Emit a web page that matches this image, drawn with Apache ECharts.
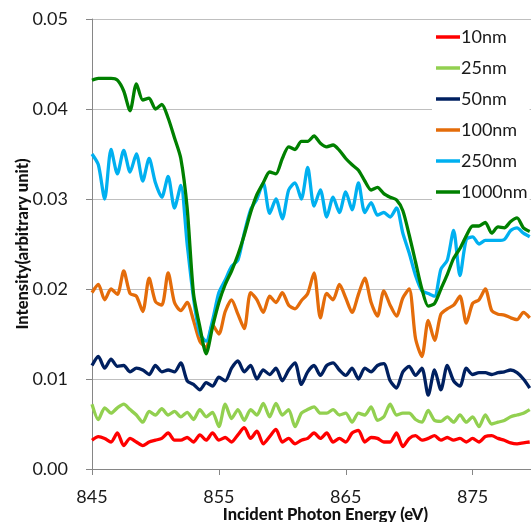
<!DOCTYPE html>
<html>
<head>
<meta charset="utf-8">
<script src="https://cdn.jsdelivr.net/npm/echarts@6/dist/echarts.min.js"></script>
<style>
html,body{margin:0;padding:0;background:#fff;}
#chart{width:531px;height:522px;}
</style>
</head>
<body>
<div id="chart"></div>
<script>
// Sample grid: incident photon energy (eV), 0.5 eV steps from 845 to 879.5
const energy = Array.from({length: 70}, (_, i) => 845 + i * 0.5);

const seriesNames = ['10nm', '25nm', '50nm', '100nm', '250nm', '1000nm'];
const seriesColors = ['#FF0000', '#92D050', '#002060', '#E46C0A', '#00B0F0', '#008000'];

const nm10 = [
  0.0032,0.0036,0.0034,0.0030,0.0040,0.0026,0.0034,0.0030,0.0026,0.0030,
  0.0032,0.0034,0.0040,0.0032,0.0032,0.0035,0.0030,0.0038,0.0032,0.0040,
  0.0032,0.0035,0.0030,0.0038,0.0046,0.0034,0.0042,0.0028,0.0036,0.0044,
  0.0030,0.0034,0.0028,0.0032,0.0034,0.0040,0.0034,0.0040,0.0030,0.0034,
  0.0030,0.0040,0.0043,0.0030,0.0035,0.0034,0.0030,0.0030,0.0040,0.0025,
  0.0034,0.0037,0.0032,0.0034,0.0037,0.0032,0.0035,0.0032,0.0034,0.0030,
  0.0034,0.0030,0.0036,0.0037,0.0034,0.0032,0.0029,0.0028,0.0029,0.0030
];
const nm25 = [
  0.0072,0.0055,0.0068,0.0062,0.0068,0.0072,0.0066,0.0060,0.0052,0.0064,
  0.0060,0.0067,0.0060,0.0064,0.0058,0.0063,0.0055,0.0066,0.0058,0.0063,
  0.0047,0.0072,0.0056,0.0066,0.0054,0.0066,0.0060,0.0073,0.0058,0.0073,
  0.0060,0.0066,0.0047,0.0062,0.0066,0.0069,0.0062,0.0062,0.0066,0.0060,
  0.0062,0.0052,0.0062,0.0060,0.0069,0.0054,0.0058,0.0072,0.0060,0.0062,
  0.0062,0.0055,0.0052,0.0065,0.0054,0.0053,0.0058,0.0052,0.0060,0.0052,
  0.0058,0.0047,0.0060,0.0050,0.0052,0.0054,0.0058,0.0060,0.0062,0.0066
];
const nm50 = [
  0.0115,0.0125,0.0112,0.0122,0.0114,0.0115,0.0108,0.0112,0.0110,0.0105,
  0.0115,0.0108,0.0110,0.0108,0.0118,0.0098,0.0094,0.0088,0.0096,0.0092,
  0.0102,0.0098,0.0112,0.0120,0.0108,0.0115,0.0100,0.0110,0.0105,0.0112,
  0.0098,0.0110,0.0118,0.0094,0.0108,0.0115,0.0104,0.0115,0.0118,0.0110,
  0.0104,0.0112,0.0100,0.0112,0.0108,0.0115,0.0117,0.0098,0.0090,0.0108,
  0.0114,0.0104,0.0112,0.0082,0.0110,0.0088,0.0115,0.0098,0.0092,0.0112,
  0.0105,0.0107,0.0107,0.0105,0.0107,0.0108,0.0110,0.0107,0.0100,0.0090
];
const nm100 = [
  0.0196,0.0205,0.0188,0.0200,0.0194,0.0220,0.0195,0.0192,0.0175,0.0212,
  0.0186,0.0182,0.0218,0.0185,0.0176,0.0185,0.0165,0.0142,0.0135,0.0160,
  0.0150,0.0175,0.0188,0.0172,0.0156,0.0196,0.0188,0.0174,0.0192,0.0185,
  0.0196,0.0182,0.0178,0.0187,0.0195,0.0218,0.0168,0.0195,0.0188,0.0205,
  0.0190,0.0174,0.0194,0.0212,0.0185,0.0170,0.0198,0.0182,0.0170,0.0190,
  0.0200,0.0145,0.0125,0.0165,0.0143,0.0172,0.0178,0.0182,0.0192,0.0162,
  0.0184,0.0188,0.0200,0.0176,0.0172,0.0171,0.0168,0.0166,0.0174,0.0168
];
const nm250 = [
  0.0350,0.0338,0.0300,0.0355,0.0328,0.0354,0.0330,0.0350,0.0320,0.0345,
  0.0318,0.0302,0.0325,0.0290,0.0315,0.0250,0.0190,0.0150,0.0142,0.0165,
  0.0196,0.0210,0.0225,0.0232,0.0262,0.0288,0.0300,0.0318,0.0284,0.0300,
  0.0278,0.0310,0.0318,0.0300,0.0335,0.0292,0.0310,0.0280,0.0302,0.0285,
  0.0308,0.0288,0.0318,0.0285,0.0296,0.0282,0.0285,0.0280,0.0290,0.0262,
  0.0240,0.0215,0.0198,0.0195,0.0192,0.0222,0.0232,0.0265,0.0215,0.0255,
  0.0258,0.0250,0.0254,0.0254,0.0254,0.0255,0.0265,0.0268,0.0262,0.0258
];
const nm1000 = [
  0.0432,0.0434,0.0434,0.0434,0.0432,0.0420,0.0398,0.0428,0.0410,0.0412,
  0.0400,0.0405,0.0390,0.0368,0.0345,0.0290,0.0195,0.0158,0.0128,0.0158,
  0.0185,0.0205,0.0220,0.0238,0.0260,0.0285,0.0305,0.0318,0.0330,0.0328,
  0.0345,0.0358,0.0355,0.0364,0.0364,0.0370,0.0362,0.0358,0.0360,0.0354,
  0.0345,0.0338,0.0332,0.0320,0.0310,0.0313,0.0306,0.0302,0.0299,0.0287,
  0.0260,0.0230,0.0200,0.0181,0.0184,0.0200,0.0216,0.0234,0.0245,0.0259,
  0.0270,0.0270,0.0274,0.0262,0.0269,0.0268,0.0275,0.0279,0.0268,0.0264
];

const seriesValues = [nm10, nm25, nm50, nm100, nm250, nm1000];
const yTicks = [0, 0.01, 0.02, 0.03, 0.04, 0.05];
const xTicks = [845, 855, 865, 875];

const FONT = 'Lato, "Open Sans", sans-serif';
const chart = echarts.init(document.getElementById('chart'));

chart.setOption({
  animation: false,
  backgroundColor: '#fff',
  grid: {left: 92, right: 0, top: 19, bottom: 53, containLabel: false, outerBoundsMode: 'none'},
  xAxis: {
    type: 'value',
    min: 845,
    max: 879.6,
    interval: 10,
    name: 'Incident Photon Energy (eV)',
    nameLocation: 'middle',
    nameGap: 37,
    nameMoveOverlap: false,
    nameTextStyle: {fontFamily: FONT, fontSize: 16.5, fontWeight: 900, color: '#111', padding: [0, 0, 0, 28]},
    axisLine: {show: true, lineStyle: {color: '#868686', width: 1}},
    axisTick: {show: true, length: 6, lineStyle: {color: '#868686'}, customValues: xTicks},
    axisLabel: {fontFamily: FONT, fontSize: 18, color: '#1a1a1a', margin: 19, customValues: xTicks, formatter: v => String(v)},
    splitLine: {show: false}
  },
  yAxis: {
    type: 'value',
    min: 0,
    max: 0.05,
    interval: 0.01,
    name: 'Intensity(arbitrary unit)',
    nameLocation: 'middle',
    nameRotate: 90,
    nameGap: 61,
    nameMoveOverlap: false,
    nameTextStyle: {fontFamily: FONT, fontSize: 16.5, fontWeight: 900, color: '#111'},
    axisLine: {show: true, lineStyle: {color: '#868686', width: 1}},
    axisTick: {show: true, length: 6, lineStyle: {color: '#868686'}},
    axisLabel: {fontFamily: FONT, fontSize: 18, color: '#1a1a1a', margin: 24, formatter: v => v.toFixed(2)},
    splitLine: {show: true, lineStyle: {color: '#BFBFBF', width: 1}}
  },
  legend: {
    orient: 'vertical',
    left: 432,
    top: 24,
    backgroundColor: '#fff',
    padding: [4, 2, 4, 4],
    itemGap: 13,
    itemWidth: 24,
    itemHeight: 3.5,
    icon: 'rect',
    textStyle: {fontFamily: FONT, fontSize: 18, color: '#1a1a1a', padding: [0, 0, 0, -4]},
    data: seriesNames
  },
  series: seriesNames.map((name, k) => ({
    name: name,
    type: 'line',
    data: energy.map((e, i) => [e, seriesValues[k][i]]),
    showSymbol: false,
    symbol: 'none',
    smooth: 0.25,
    z: 2 + k,
    itemStyle: {color: seriesColors[k]},
    lineStyle: {color: seriesColors[k], width: 3.3}
  }))
});
</script>
</body>
</html>
